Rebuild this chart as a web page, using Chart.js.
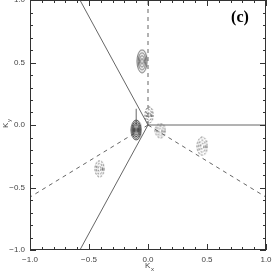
<!DOCTYPE html>
<html>
<head>
<meta charset="utf-8">
<script src="https://cdn.jsdelivr.net/npm/chart.js@4.4.1/dist/chart.umd.min.js"></script>
<style>
html, body { margin: 0; padding: 0; background: #fff; }
</style>
</head>
<body>
<canvas id="c" width="273" height="273"></canvas>
<script>
// tick labels
const xTicks = [-1.0, -0.5, 0.0, 0.5, 1.0];
const yTicks = [-1.0, -0.5, 0.0, 0.5, 1.0];

// symmetry lines from the origin
const solidLines = [
    [[0, 0], [-0.577, 1]],
    [[0, 0], [-0.577, -1]],
    [[0, 0], [1, 0]],
    [[-0.1, 0.0], [-0.1, 0.13]]
];
const dashedLines = [
    [[0, 0], [0, 1]],
    [[0, 0], [-1, -0.577]],
    [[0, 0], [1, -0.577]]
];

// contour peaks
const peakX = [-0.05, -0.10, 0.01, 0.105, 0.46, -0.41];
const peakY = [0.51, -0.04, 0.08, -0.045, -0.17, -0.35];
const peakRings = [4, 6, 3, 3, 3, 3];
const peakDashed = [false, false, true, true, true, true];

// look of the peaks (pixels)
const peakW = [10, 10, 8, 10, 10, 9];
const peakH = [23, 20, 16, 14, 18, 16];

function makePeak(w, h, rings, dashed, dark) {
    const cv = document.createElement('canvas');
    cv.width = w + 2;
    cv.height = h + 2;
    const g = cv.getContext('2d');
    g.strokeStyle = dark ? '#222' : '#444';
    g.lineWidth = 0.8;
    if (dashed) g.setLineDash([2, 1.5]);
    for (let i = 1; i <= rings; i++) {
        g.beginPath();
        g.ellipse(cv.width / 2, cv.height / 2, (w / 2) * i / rings, (h / 2) * i / rings, 0, 0, Math.PI * 2);
        g.stroke();
    }
    return cv;
}

const peakStyles = peakX.map((v, i) => makePeak(peakW[i], peakH[i], peakRings[i], peakDashed[i], i === 1));

const toPts = seg => seg.map(p => ({x: p[0], y: p[1]}));

const datasets = [];
solidLines.forEach(seg => datasets.push({
    data: toPts(seg), showLine: true, pointRadius: 0,
    borderColor: '#555', borderWidth: 0.9
}));
dashedLines.forEach(seg => datasets.push({
    data: toPts(seg), showLine: true, pointRadius: 0,
    borderColor: '#555', borderWidth: 0.9, borderDash: [4, 4]
}));
datasets.push({
    data: peakX.map((x, i) => ({x: x, y: peakY[i]})),
    showLine: false,
    pointStyle: peakStyles,
    pointRadius: 5
});

const fmt = v => v.toFixed(1).replace('-', '\u2212');

const frame = {
    id: 'frame',
    afterDraw(chart) {
        const {ctx, chartArea: a, scales: {x, y}} = chart;
        ctx.save();
        ctx.strokeStyle = '#333';
        ctx.lineWidth = 1;
        ctx.strokeRect(a.left + 0.5, a.top + 0.5, a.right - a.left - 1, a.bottom - a.top - 1);
        ctx.beginPath();
        for (let i = -10; i <= 10; i++) {
            const v = i / 10;
            const len = i % 5 === 0 ? 6 : 3;
            const px = Math.round(x.getPixelForValue(v)) + 0.5;
            const py = Math.round(y.getPixelForValue(v)) + 0.5;
            ctx.moveTo(px, a.bottom); ctx.lineTo(px, a.bottom - len);
            ctx.moveTo(px, a.top); ctx.lineTo(px, a.top + len);
            ctx.moveTo(a.left, py); ctx.lineTo(a.left + len, py);
            ctx.moveTo(a.right, py); ctx.lineTo(a.right - len, py);
        }
        ctx.stroke();

        // axis titles
        ctx.fillStyle = '#444';
        ctx.font = '8px "Liberation Sans"';
        ctx.textBaseline = 'middle';
        ctx.textAlign = 'left';
        ctx.fillText('K', 145, 266);
        ctx.font = '6px "Liberation Sans"';
        ctx.fillText('x', 151, 269);
        ctx.save();
        ctx.translate(6, 128);
        ctx.rotate(-Math.PI / 2);
        ctx.font = '8px "Liberation Sans"';
        ctx.fillText('K', 0, 0);
        ctx.font = '6px "Liberation Sans"';
        ctx.fillText('y', 6, 3);
        ctx.restore();

        // panel label
        ctx.fillStyle = '#000';
        ctx.font = 'bold 16px "Liberation Serif"';
        ctx.textAlign = 'center';
        ctx.fillText('(c)', 240, 18);
        ctx.restore();
    }
};

const noPad = s => { s.paddingLeft = 0; s.paddingRight = 0; s.paddingTop = 0; s.paddingBottom = 0; };

new Chart(document.getElementById('c'), {
    type: 'scatter',
    data: { datasets: datasets },
    options: {
        responsive: false,
        animation: false,
        devicePixelRatio: 1,
        layout: { autoPadding: false, padding: { top: 0, right: 7, left: 0, bottom: 0 } },
        plugins: { legend: { display: false }, tooltip: { enabled: false } },
        scales: {
            x: {
                min: -1, max: 1,
                afterBuildTicks: s => { s.ticks = xTicks.map(v => ({value: v})); },
                afterFit: s => { s.height = 23; noPad(s); },
                grid: { display: false, drawTicks: false },
                border: { display: false },
                ticks: {
                    callback: v => fmt(v), padding: 5, maxRotation: 0,
                    color: '#444', font: { family: 'Liberation Sans', size: 8 }
                }
            },
            y: {
                min: -1, max: 1,
                afterBuildTicks: s => { s.ticks = yTicks.map(v => ({value: v})); },
                afterFit: s => { s.width = 30; noPad(s); },
                grid: { display: false, drawTicks: false },
                border: { display: false },
                ticks: {
                    callback: v => fmt(v), padding: 5,
                    color: '#444', font: { family: 'Liberation Sans', size: 8 }
                }
            }
        }
    },
    plugins: [frame]
});
</script>
</body>
</html>
